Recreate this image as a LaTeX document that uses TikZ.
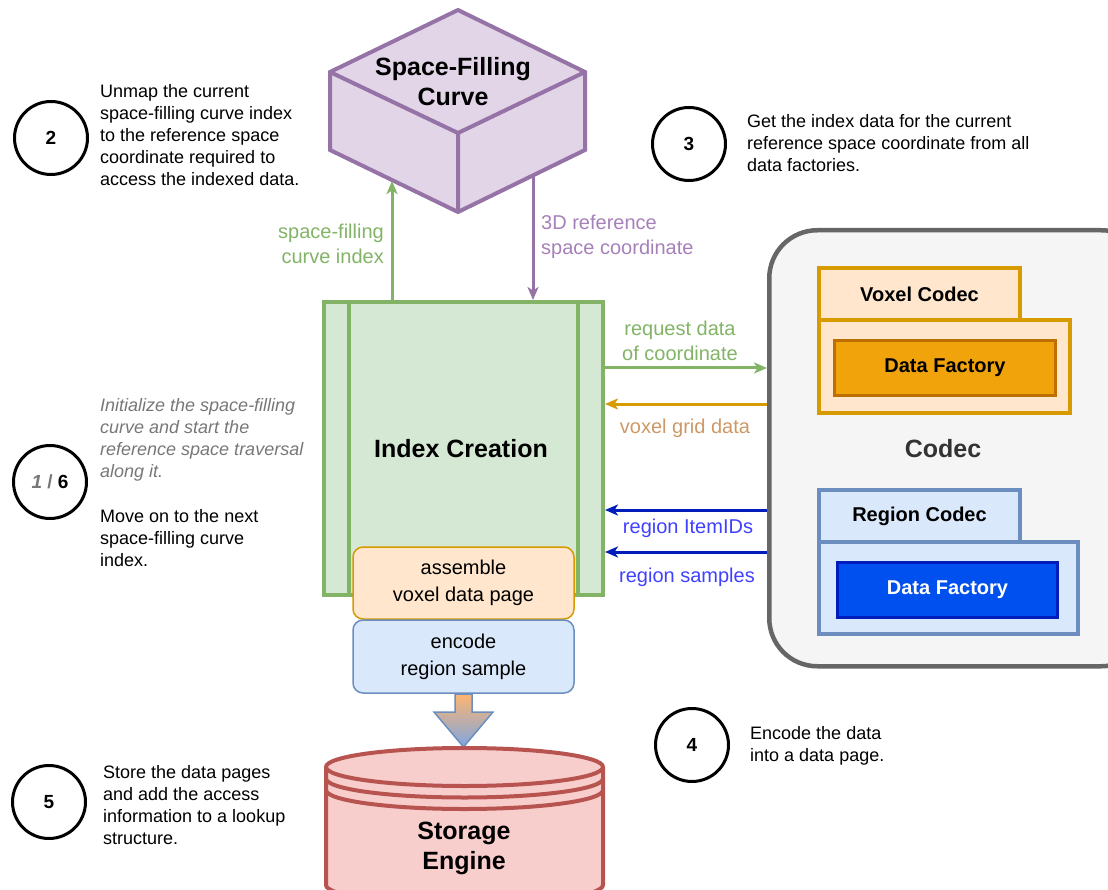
\documentclass[tikz,border=0pt]{standalone}
\usepackage{fontspec}
\setmainfont{Liberation Sans}
\usetikzlibrary{arrows.meta}

\definecolor{grnstroke}{HTML}{82B366}
\definecolor{grnfill}{HTML}{D5E8D4}
\definecolor{purstroke}{HTML}{9673A6}
\definecolor{purfill}{HTML}{E1D5E7}
\definecolor{purtext}{HTML}{A680B8}
\definecolor{orstroke}{HTML}{D79B00}
\definecolor{orfill}{HTML}{FFE6CC}
\definecolor{ortext}{HTML}{CC9966}
\definecolor{blstroke}{HTML}{6C8EBF}
\definecolor{blfill}{HTML}{DAE8FC}
\definecolor{redstroke}{HTML}{B85450}
\definecolor{redfill}{HTML}{F8CECC}
\definecolor{greystroke}{HTML}{666666}
\definecolor{greyfill}{HTML}{F5F5F5}
\definecolor{codectext}{HTML}{333333}
\definecolor{dforfill}{HTML}{F0A30A}
\definecolor{dforstroke}{HTML}{BD7000}
\definecolor{dfblfill}{HTML}{0050EF}
\definecolor{dfblstroke}{HTML}{001DBC}
\definecolor{bltext}{HTML}{4040FF}
\definecolor{italgrey}{HTML}{777777}
\definecolor{shadetop}{HTML}{FFB570}
\definecolor{shadebot}{HTML}{7EA6E0}

\tikzset{
  num/.style={circle, draw=black, line width=3pt, minimum size=73pt, inner sep=0pt,
    font=\bfseries\fontsize{19}{23}\selectfont},
  desc/.style={anchor=west, align=left, inner sep=0pt, font=\fontsize{18}{22}\selectfont},
  lbl/.style={inner sep=0pt, font=\fontsize{20}{25}\selectfont},
  title/.style={align=center, inner sep=0pt, font=\bfseries\fontsize{25}{30}\selectfont},
  subtitle/.style={align=center, inner sep=0pt, font=\bfseries\fontsize{20}{24}\selectfont},
  proc/.style={rounded corners=10pt, line width=1.5pt, align=center, inner sep=0pt,
    minimum width=221pt, font=\fontsize{20}{27}\selectfont},
  arr/.style={line width=3pt, -{Stealth[length=13pt,width=11pt,inset=3.5pt]}},
  cube/.style={draw=purstroke, fill=purfill, line width=4pt},
  cylline/.style={draw=redstroke, line width=4pt},
}

\begin{document}
\begin{tikzpicture}[x=1pt,y=-1pt]
\useasboundingbox (0,0) rectangle (1108,890);

% ---- space-filling curve (box drawn as a cube) ----
\filldraw[cube] (330,72) -- (458,10) -- (585,72) -- (585,150) -- (458,212) -- (330,150) -- cycle;
\draw[cube, fill=none] (330,72) -- (458,133) -- (585,72) (458,133) -- (458,212);
\node[title] (sfc) at (453,82) {Space-Filling\\Curve};
\coordinate (sfcin) at (392,181);
\coordinate (sfcout) at (533,176);

% ---- index creation ----
\node[draw=grnstroke, fill=grnfill, line width=4pt, minimum width=279pt, minimum height=293pt,
      inner sep=0pt] (ic) at (463.5,448.5) {};
\node[title] (ict) at (461,449) {Index Creation};
\draw[grnstroke, line width=4pt] ([xshift=27pt]ic.north west) -- ([xshift=27pt]ic.south west);
\draw[grnstroke, line width=4pt] ([xshift=-27pt]ic.north east) -- ([xshift=-27pt]ic.south east);

\node[proc, draw=orstroke, fill=orfill, minimum height=72pt] (asm) at (463.5,583) {assemble\\voxel data page};
\node[proc, draw=blstroke, fill=blfill, minimum height=73pt] (enc) at (463.5,656.5) {encode\\region sample};

% ---- block arrow into storage ----
\shade[top color=shadetop, bottom color=shadebot, draw=blstroke, line width=1.5pt]
  (455,694) -- (472,694) -- (472,712) -- (493,712) -- (463.5,747) -- (434,712) -- (455,712) -- cycle;

% ---- storage engine (datastore cylinder) ----
\filldraw[cylline, fill=redfill] (326,767) -- (326,885)
  arc[start angle=180, end angle=360, x radius=138.5pt, y radius=19pt] -- (603,767)
  arc[start angle=0, end angle=180, x radius=138.5pt, y radius=19pt] -- cycle;
\draw[cylline] (326,767) arc[start angle=180, end angle=360, x radius=138.5pt, y radius=19pt];
\draw[cylline] (326,778.5) arc[start angle=180, end angle=360, x radius=138.5pt, y radius=19pt];
\draw[cylline] (326,790) arc[start angle=180, end angle=360, x radius=138.5pt, y radius=19pt];
\node[title] (se) at (464,848) {Storage\\Engine};

% ---- codec container ----
\node[draw=greystroke, fill=greyfill, line width=4.5pt, rounded corners=48pt, anchor=north west,
      minimum width=380pt, minimum height=436pt, inner sep=0pt] (codec) at (767,228) {};
\node[title, text=codectext] (codect) at (943,449) {Codec};

% voxel codec
\node[draw=orstroke, fill=orfill, line width=4pt, anchor=north west, minimum width=251pt,
      minimum height=93pt, inner sep=0pt] (vmain) at (817,318) {};
\node[draw=orstroke, fill=orfill, line width=4pt, anchor=north west, minimum width=201pt,
      minimum height=52pt, inner sep=0pt, subtitle] (vtab) at (817,266) {Voxel Codec};
\node[draw=dforstroke, fill=dforfill, line width=3pt, anchor=north west, minimum width=221pt,
      minimum height=55pt, inner sep=0pt, subtitle] (vdf) at (833,339) {Data Factory};

% region codec
\node[draw=blstroke, fill=blfill, line width=4pt, anchor=north west, minimum width=259pt,
      minimum height=92pt, inner sep=0pt] (rmain) at (817,540) {};
\node[draw=blstroke, fill=blfill, line width=4pt, anchor=north west, minimum width=201pt,
      minimum height=52pt, inner sep=0pt, subtitle] (rtab) at (817,488) {Region Codec};
\node[draw=dfblstroke, fill=dfblfill, line width=3pt, anchor=north west, minimum width=220pt,
      minimum height=55pt, inner sep=0pt, subtitle, text=white] (rdf) at (836,561) {Data Factory};

% ---- connectors ----
\draw[arr, grnstroke] (ic.north -| sfcin) -- (sfcin);
\draw[arr, purstroke] (sfcout) -- (ic.north -| sfcout);
\draw[arr, grnstroke] (ic.east |- 0,368) -- (codec.west |- 0,368);
\draw[arr, orstroke] (codec.west |- 0,404) -- (ic.east |- 0,404);
\draw[arr, dfblstroke] (codec.west |- 0,510) -- (ic.east |- 0,510);
\draw[arr, dfblstroke] (codec.west |- 0,552) -- (ic.east |- 0,552);

% ---- connector labels ----
\node[lbl, text=grnstroke, anchor=east, align=right] (lsfi) at (384,243.5) {space-filling\\curve index};
\node[lbl, text=purtext, anchor=west, align=left] (lref) at (541,236.5) {3D reference\\space coordinate};
\node[lbl, text=grnstroke, align=center] (lreq) at (680,340.5) {request data\\of coordinate};
\node[lbl, text=ortext] (lvox) at (685,428) {voxel grid data};
\node[lbl, text=bltext] (lids) at (688,528) {region ItemIDs};
\node[lbl, text=bltext] (lsmp) at (687,577) {region samples};

% ---- numbered steps ----
\node[num] (n2) at (51,138) {2};
\node[desc] (d2) at (100,135) {Unmap the current\\space-filling curve index\\to the reference space\\coordinate required to\\access the indexed data.};

\node[num] (n3) at (689,144) {3};
\node[desc] (d3) at (747,143) {Get the index data for the current\\reference space coordinate from all\\data factories.};

\node[num] (n16) at (50,482) {{\itshape\color{italgrey}1} {\color{italgrey}/} 6};
\node[desc, font=\itshape\fontsize{18}{22}\selectfont, text=italgrey] (d1) at (100,440)
  {Initialize the space-filling\\curve and start the\\reference space traversal\\along it.};
\node[desc] (d6) at (100,538) {Move on to the next\\space-filling curve\\index.};

\node[num] (n5) at (49,802) {5};
\node[desc] (d5) at (103,805.5) {Store the data pages\\and add the access\\information to a lookup\\structure.};

\node[num] (n4) at (692,745) {4};
\node[desc] (d4) at (750,746) {Encode the data\\into a data page.};

\end{tikzpicture}
\end{document}
